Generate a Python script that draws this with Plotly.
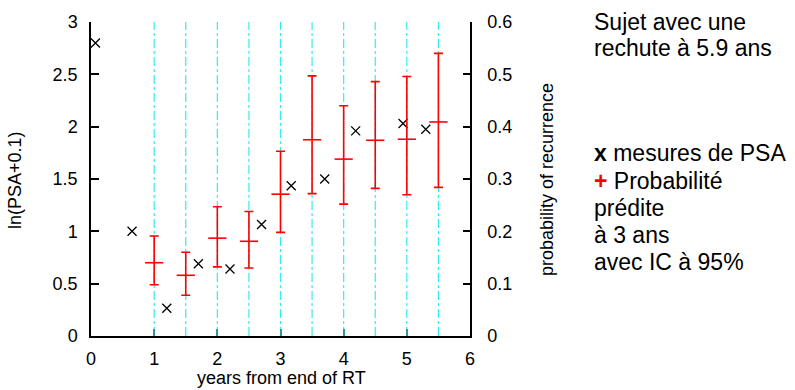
import plotly.graph_objects as go

# Data
psa_years = [0.07, 0.65, 1.2, 1.7, 2.2, 2.7, 3.17, 3.7, 4.19, 4.94, 5.3]
psa_ln = [2.80, 1.00, 0.265, 0.69, 0.64, 1.065, 1.435, 1.50, 1.96, 2.03, 1.975]

pred_years = [1, 1.5, 2, 2.5, 3, 3.5, 4, 4.5, 5, 5.5]
pred_prob = [0.140, 0.116, 0.187, 0.181, 0.271, 0.375, 0.338, 0.374, 0.376, 0.409]
pred_upper = [0.191, 0.160, 0.247, 0.238, 0.353, 0.497, 0.440, 0.486, 0.496, 0.540]
pred_lower = [0.098, 0.078, 0.132, 0.130, 0.198, 0.272, 0.252, 0.282, 0.270, 0.284]

grid_years = [1, 1.5, 2, 2.5, 3, 3.5, 4, 4.5, 5, 5.5]

x_ticks = [0, 1, 2, 3, 4, 5, 6]
y_ticks = [0, 0.5, 1, 1.5, 2, 2.5, 3]
y_tick_labels = ["0", "0.5", "1", "1.5", "2", "2.5", "3"]
y2_ticks = [0, 0.1, 0.2, 0.3, 0.4, 0.5, 0.6]
y2_tick_labels = ["0", "0.1", "0.2", "0.3", "0.4", "0.5", "0.6"]

header_lines = ["Sujet avec une", "rechute à 5.9 ans"]
legend_lines = ["<b>x</b> mesures de PSA",
                "<b><span style='color:#ff0000'>+</span></b> Probabilité",
                "prédite", "à 3 ans", "avec IC à 95%"]

FONT = "Liberation Sans, Arial, Helvetica, sans-serif"

err_plus = [u - p for u, p in zip(pred_upper, pred_prob)]
err_minus = [p - l for p, l in zip(pred_prob, pred_lower)]

fig = go.Figure()

fig.add_trace(go.Scatter(
    x=pred_years, y=pred_prob, yaxis="y2", mode="markers",
    marker=dict(symbol="line-ew", size=13, line=dict(color="#ff0000", width=1.6)),
    error_y=dict(type="data", symmetric=False, array=err_plus, arrayminus=err_minus,
                 color="#ff0000", thickness=1.6, width=4.5),
    showlegend=False, cliponaxis=False, hoverinfo="skip",
))

fig.add_trace(go.Scatter(
    x=psa_years, y=psa_ln, mode="markers",
    marker=dict(symbol="x-thin", size=9, line=dict(color="black", width=1.3)),
    showlegend=False, cliponaxis=False, hoverinfo="skip",
))

for gx in grid_years:
    fig.add_shape(type="line", xref="x", yref="paper", x0=gx, x1=gx, y0=0, y1=1,
                  line=dict(color="#33eeee", width=1.2, dash="dashdot"), layer="below")

fig.update_layout(
    width=795, height=390,
    margin=dict(l=91, r=325, t=16, b=54),
    paper_bgcolor="white", plot_bgcolor="white",
    font=dict(family=FONT, size=18, color="black"),
    xaxis=dict(range=[0, 6], tickvals=x_ticks, ticks="inside", ticklen=7,
               tickcolor="#2a9a9a", tickwidth=1.5,
               showline=True, linecolor="black", linewidth=1.5, mirror=False,
               showgrid=False, zeroline=False, ticklabeloverflow="allow",
               tickfont=dict(size=18), ticklabelstandoff=6),
    yaxis=dict(range=[0, 3], tickvals=y_ticks, ticktext=y_tick_labels,
               ticks="inside", ticklen=8, tickcolor="black", tickwidth=1.5,
               showline=True, linecolor="black", linewidth=1.5, mirror=False,
               showgrid=False, zeroline=False, ticklabeloverflow="allow",
               tickfont=dict(size=18), ticklabelstandoff=8),
    yaxis2=dict(range=[0, 0.6], tickvals=y2_ticks, ticktext=y2_tick_labels,
                overlaying="y", side="right",
                ticks="inside", ticklen=7, tickcolor="black", tickwidth=1.5,
                showline=True, linecolor="black", linewidth=1.5, mirror=False,
                showgrid=False, zeroline=False, ticklabeloverflow="allow",
                tickfont=dict(size=18), ticklabelstandoff=12),
)

W = 795 - 91 - 325
H = 390 - 16 - 54


def px(xp):
    return (xp - 91) / W


def py(yp):
    return (390 - 54 - yp) / H


annotations = [
    dict(text="years from end of RT", x=px(281), y=py(379), textangle=0,
         font=dict(size=18)),
    dict(text="ln(PSA+0.1)", x=px(15), y=py(177), textangle=-90, font=dict(size=18)),
    dict(text="probability of recurrence", x=px(547), y=py(177), textangle=-90,
         font=dict(size=18)),
]
for a in annotations:
    a.update(xref="paper", yref="paper", showarrow=False, xanchor="center",
             yanchor="middle")
    fig.add_annotation(**a)

LEG_FS = 23
header_baselines = [23, 50]
legend_baselines = [157, 185, 212.5, 240, 267.5]
for txt, b in zip(header_lines + legend_lines, header_baselines + legend_baselines):
    fig.add_annotation(
        text=txt, xref="paper", yref="paper", x=px(592), y=py(b - 7),
        xanchor="left", yanchor="middle", align="left", showarrow=False,
        font=dict(size=LEG_FS),
    )

fig.write_html("out.html", config={"displayModeBar": False},
               post_script="document.body.style.margin='0';")
